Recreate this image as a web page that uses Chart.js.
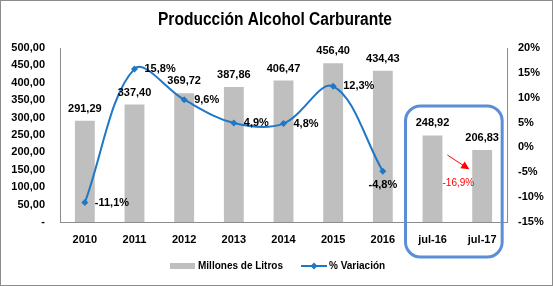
<!DOCTYPE html>
<html>
<head>
<meta charset="utf-8">
<script src="https://cdn.jsdelivr.net/npm/chart.js@4/dist/chart.umd.min.js"></script>
<style>
  html, body { margin: 0; padding: 0; background: #fff; }
  #wrap { width: 553px; height: 286px; position: relative; }
</style>
</head>
<body>
<div id="wrap"><canvas id="grafico" width="553" height="286"></canvas></div>
<script>
// Datos del gráfico
const categorias = ['2010', '2011', '2012', '2013', '2014', '2015', '2016', 'jul-16', 'jul-17'];
const millonesLitros = [291.29, 337.40, 369.72, 387.86, 406.47, 456.40, 434.43, 248.92, 206.83];
const variacion = [-11.1, 15.8, 9.6, 4.9, 4.8, 12.3, -4.8, null, null];
const variacionJulio = -16.9;
const ejeIzq = { min: 0, max: 500, paso: 50 };
const ejeDer = { min: -15, max: 20, paso: 5 };

const FUENTE = '"Liberation Sans", Arial, sans-serif';
const GRIS_BARRA = '#BFBFBF';
const AZUL_LINEA = '#1F77C6';

function formatoLitros(v) {
    if (v === 0) return '-';
    return v.toFixed(2).replace('.', ',');
}
function formatoPct(v) {
    return v.toFixed(1).replace('.', ',') + '%';
}

// Plugin: título, etiquetas, recuadro, flecha, leyenda y borde
const decoraciones = {
    id: 'decoraciones',
    afterDraw(chart) {
        const ctx = chart.ctx;
        const x = chart.scales.x;
        const yI = chart.scales.yIzq;
        const yD = chart.scales.yDer;
        ctx.save();

        // Título (comprimido para imitar la fuente angosta del original)
        ctx.fillStyle = '#000';
        ctx.font = 'bold 18px ' + FUENTE;
        ctx.textAlign = 'center';
        ctx.textBaseline = 'middle';
        const titulo = 'Producción Alcohol Carburante';
        const escala = 234 / ctx.measureText(titulo).width;
        ctx.save();
        ctx.translate(275, 20);
        ctx.scale(escala, 1);
        ctx.fillText(titulo, 0, 0);
        ctx.restore();

        // Etiquetas de barras
        ctx.font = 'bold 11px ' + FUENTE;
        ctx.textBaseline = 'alphabetic';
        millonesLitros.forEach((v, i) => {
            const px = x.getPixelForValue(i);
            const py = yI.getPixelForValue(v);
            ctx.fillText(formatoLitros(v), px, py - 9);
        });

        // Etiquetas de la línea
        ctx.textBaseline = 'middle';
        variacion.forEach((v, i) => {
            if (v === null) return;
            const px = x.getPixelForValue(i);
            const py = yD.getPixelForValue(v);
            if (i === 6) {
                ctx.textAlign = 'center';
                ctx.fillText(formatoPct(v), px, py + 14);
            } else {
                ctx.textAlign = 'left';
                ctx.fillText(formatoPct(v), px + 10, py);
            }
        });

        // Recuadro redondeado jul-16 / jul-17
        const xa = x.getPixelForValue(7), xb = x.getPixelForValue(8);
        const bx = xa - 27, by = 106, bw = (xb + 20) - bx, bh = 151;
        ctx.strokeStyle = '#5B8ED6';
        ctx.lineWidth = 3;
        ctx.beginPath();
        ctx.roundRect(bx, by, bw, bh, 15);
        ctx.stroke();

        // Flecha roja y variación julio
        const xm = (xa + xb) / 2;
        ctx.strokeStyle = '#FF0000';
        ctx.fillStyle = '#FF0000';
        ctx.lineWidth = 1;
        const x1 = xm - 10, y1 = 155, x2 = xm + 10, y2 = 168;
        ctx.beginPath();
        ctx.moveTo(x1, y1);
        ctx.lineTo(x2, y2);
        ctx.stroke();
        const ang = Math.atan2(y2 - y1, x2 - x1);
        ctx.beginPath();
        ctx.moveTo(x2 + 2, y2 + 1.3);
        ctx.lineTo(x2 + 2 - 9 * Math.cos(ang - 0.45), y2 + 1.3 - 9 * Math.sin(ang - 0.45));
        ctx.lineTo(x2 + 2 - 9 * Math.cos(ang + 0.45), y2 + 1.3 - 9 * Math.sin(ang + 0.45));
        ctx.closePath();
        ctx.fill();
        ctx.font = '10px ' + FUENTE;
        ctx.textAlign = 'center';
        ctx.textBaseline = 'middle';
        ctx.fillText(formatoPct(variacionJulio), xm + 1, 183);

        // Leyenda
        ctx.fillStyle = GRIS_BARRA;
        ctx.fillRect(170, 263, 25, 6);
        ctx.fillStyle = '#000';
        ctx.font = 'bold 10px ' + FUENTE;
        ctx.textAlign = 'left';
        ctx.fillText(chart.data.datasets[1].label, 198, 266);
        ctx.strokeStyle = AZUL_LINEA;
        ctx.lineWidth = 2;
        ctx.beginPath();
        ctx.moveTo(301, 266);
        ctx.lineTo(327, 266);
        ctx.stroke();
        ctx.fillStyle = AZUL_LINEA;
        ctx.beginPath();
        ctx.moveTo(314, 262.5); ctx.lineTo(317.5, 266); ctx.lineTo(314, 269.5); ctx.lineTo(310.5, 266);
        ctx.closePath();
        ctx.fill();
        ctx.fillStyle = '#000';
        ctx.fillText(chart.data.datasets[0].label, 329, 266);

        // Borde exterior
        ctx.strokeStyle = '#8C8C8C';
        ctx.lineWidth = 1;
        ctx.strokeRect(0.5, 0.5, 552, 285);
        ctx.restore();
    }
};

new Chart(document.getElementById('grafico'), {
    data: {
        labels: categorias,
        datasets: [
            {
                type: 'line',
                label: '% Variación',
                data: variacion,
                yAxisID: 'yDer',
                borderColor: AZUL_LINEA,
                backgroundColor: AZUL_LINEA,
                borderWidth: 2,
                tension: 0.35,
                pointStyle: 'rectRot',
                pointRadius: 3.5,
                pointBorderWidth: 0,
                spanGaps: false,
                order: 0
            },
            {
                type: 'bar',
                label: 'Millones de Litros',
                data: millonesLitros,
                yAxisID: 'yIzq',
                backgroundColor: GRIS_BARRA,
                categoryPercentage: 1,
                barPercentage: 0.4,
                order: 1
            }
        ]
    },
    options: {
        responsive: false,
        animation: false,
        layout: { padding: { top: 48, left: 0, right: 0, bottom: 0 } },
        plugins: {
            legend: { display: false },
            tooltip: { enabled: false },
            title: { display: false }
        },
        scales: {
            x: {
                grid: { display: false, drawTicks: false },
                border: { color: '#8C8C8C', width: 1 },
                ticks: {
                    color: '#000',
                    font: { family: FUENTE, size: 11, weight: 'bold' },
                    padding: 11,
                    maxRotation: 0
                },
                afterFit(s) { s.height = 64; }
            },
            yIzq: {
                position: 'left',
                min: ejeIzq.min,
                max: ejeIzq.max,
                grid: { display: false, drawTicks: false },
                border: { color: '#8C8C8C', width: 1 },
                ticks: {
                    stepSize: ejeIzq.paso,
                    color: '#000',
                    font: { family: FUENTE, size: 11, weight: 'bold' },
                    padding: 15,
                    callback: v => formatoLitros(v)
                },
                afterFit(s) { s.width = 60; }
            },
            yDer: {
                position: 'right',
                min: ejeDer.min,
                max: ejeDer.max,
                grid: { display: false, drawOnChartArea: false, drawTicks: true, tickLength: 4, color: '#8C8C8C' },
                border: { color: '#8C8C8C', width: 1 },
                ticks: {
                    stepSize: ejeDer.paso,
                    color: '#000',
                    font: { family: FUENTE, size: 11, weight: 'bold' },
                    padding: 7,
                    callback: v => v + '%'
                },
                afterFit(s) { s.width = 46; }
            }
        }
    },
    plugins: [decoraciones]
});
</script>
</body>
</html>
